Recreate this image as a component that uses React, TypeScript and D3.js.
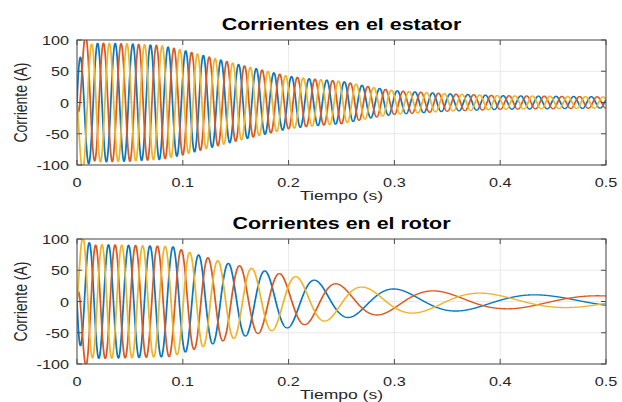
import React from "react";
import * as d3 from "d3";

// ---------- data ----------
const xTicks = [0, 0.1, 0.2, 0.3, 0.4, 0.5];
const yTicks = [-100, -50, 0, 50, 100];
const phaseAnglesDeg = [30, -90, 150]; // blue, orange, yellow
const statorFrequency = 60; // Hz
const dcDecayTau = 0.004; // s
const statorEnvTimes = [0, 0.02, 0.05, 0.08, 0.1, 0.12, 0.15, 0.18, 0.2, 0.22, 0.25, 0.28, 0.3, 0.35, 0.4, 0.45, 0.5];
const statorEnvAmps = [95, 95, 94, 91, 84, 75, 62, 50, 42, 38, 34, 24, 19, 14, 11, 10, 9];
const rotorFreqTimes = [0, 0.05, 0.1, 0.15, 0.2, 0.236, 0.258, 0.285, 0.32, 0.363, 0.412, 0.467, 0.5];
const rotorFreqValues = [58, 51.2, 42, 31, 21, 16, 13.5, 11, 8.5, 7.25, 6.45, 5.6, 5.3];
const rotorEnvTimes = [0, 0.05, 0.09, 0.1, 0.12, 0.14, 0.16, 0.18, 0.2, 0.225, 0.25, 0.27, 0.3, 0.35, 0.4, 0.45, 0.5];
const rotorEnvAmps = [92, 90, 88, 82, 72, 62, 55, 48, 42, 34, 27, 23, 20, 16, 12, 10, 9];
const titles = ["Corrientes en el estator", "Corrientes en el rotor"];
const xLabel = "Tiempo (s)";
const yLabel = "Corriente (A)";

// ---------- styles / layout ----------
const colors = ["#0a78c2", "#db5a22", "#eeb52a"];
const W = 622;
const H = 402;
const X0 = 77;
const X1 = 606;
const panels = [
  { top: 40, bottom: 165 },
  { top: 239, bottom: 364 },
];
const SX = 1.3; // horizontal stretch seen in the picture
const FONT = "'Liberation Sans', Arial, Helvetica, sans-serif";
const TXT = "#262626";

function buildSeries(kind: number) {
  const dt = 0.0002;
  const n = Math.round(0.5 / dt);
  const env = d3
    .scaleLinear()
    .domain(kind === 0 ? statorEnvTimes : rotorEnvTimes)
    .range(kind === 0 ? statorEnvAmps : rotorEnvAmps);
  const freq = d3.scaleLinear().domain(rotorFreqTimes).range(rotorFreqValues);
  const thetas: number[] = [];
  let th = 0;
  for (let i = 0; i <= n; i++) {
    const t = i * dt;
    if (kind === 0) {
      th = 2 * Math.PI * statorFrequency * t;
    } else if (i > 0) {
      const f = (freq(t - dt) + freq(t)) / 2;
      th += 2 * Math.PI * f * dt;
    }
    thetas.push(th);
  }
  return phaseAnglesDeg.map((deg) => {
    const phi = (deg * Math.PI) / 180;
    const pts: [number, number][] = [];
    for (let i = 0; i <= n; i++) {
      const t = i * dt;
      const v = env(t) * (Math.sin(thetas[i] + phi) - Math.sin(phi) * Math.exp(-t / dcDecayTau));
      pts.push([t, kind === 0 ? v : -v]);
    }
    return pts;
  });
}

function Panel({ idx }: { idx: number }) {
  const p = panels[idx];
  const x = d3.scaleLinear().domain([0, 0.5]).range([X0, X1]);
  // compressed x scale: drawn inside a group stretched by SX
  const xc = d3.scaleLinear().domain([0, 0.5]).range([X0 / SX, X1 / SX]);
  const y = d3.scaleLinear().domain([-100, 100]).range([p.bottom, p.top]);
  const series = React.useMemo(() => buildSeries(idx), [idx]);
  const line = d3
    .line<[number, number]>()
    .x((d) => xc(d[0]))
    .y((d) => y(d[1]));
  const clipId = `clip${idx}`;
  const tickLen = 5;
  const cy = (p.top + p.bottom) / 2;
  return (
    <g>
      <defs>
        <clipPath id={clipId}>
          <rect x={X0} y={p.top} width={X1 - X0} height={p.bottom - p.top} />
        </clipPath>
      </defs>
      <rect x={X0} y={p.top} width={X1 - X0} height={p.bottom - p.top} fill="#fff" />
      {/* grid */}
      {xTicks.map((t) => (
        <line key={"gx" + t} x1={x(t)} x2={x(t)} y1={p.top} y2={p.bottom} stroke="#e3e3e3" strokeWidth={0.8} />
      ))}
      {yTicks.map((t) => (
        <line key={"gy" + t} x1={X0} x2={X1} y1={y(t)} y2={y(t)} stroke="#e3e3e3" strokeWidth={0.8} />
      ))}
      {/* series */}
      <g clipPath={`url(#${clipId})`}>
        <g transform={`scale(${SX},1)`}>
          {series.map((s, k) => (
            <path key={k} d={line(s) || ""} fill="none" stroke={colors[k]} strokeWidth={1.35} strokeLinejoin="round" />
          ))}
        </g>
      </g>
      {/* box */}
      <rect x={X0} y={p.top} width={X1 - X0} height={p.bottom - p.top} fill="none" stroke="#4d4d4d" strokeWidth={1} />
      {/* ticks */}
      {xTicks.map((t) => (
        <g key={"tx" + t}>
          <line x1={x(t)} x2={x(t)} y1={p.bottom} y2={p.bottom - tickLen} stroke="#4d4d4d" />
          <line x1={x(t)} x2={x(t)} y1={p.top} y2={p.top + tickLen} stroke="#4d4d4d" />
          <text
            transform={`translate(${x(t)},${p.bottom + 22}) scale(${SX},1)`}
            textAnchor="middle"
            fontSize={12.5}
            fill={TXT}
            fontFamily={FONT}
          >
            {String(t)}
          </text>
        </g>
      ))}
      {yTicks.map((t) => (
        <g key={"ty" + t}>
          <line x1={X0} x2={X0 + tickLen} y1={y(t)} y2={y(t)} stroke="#4d4d4d" />
          <line x1={X1} x2={X1 - tickLen} y1={y(t)} y2={y(t)} stroke="#4d4d4d" />
          <text
            transform={`translate(69,${y(t) + 5}) scale(${SX},1)`}
            textAnchor="end"
            fontSize={12.5}
            fill={TXT}
            fontFamily={FONT}
          >
            {String(t)}
          </text>
        </g>
      ))}
      {/* labels */}
      <text
        transform={`translate(${(X0 + X1) / 2},${p.bottom + 35}) scale(${SX},1)`}
        textAnchor="middle"
        fontSize={13.5}
        fill={TXT}
        fontFamily={FONT}
      >
        {xLabel}
      </text>
      <text
        transform={`translate(26.5,${cy}) scale(${SX},1) rotate(-90)`}
        textAnchor="middle"
        fontSize={14}
        fill={TXT}
        fontFamily={FONT}
      >
        {yLabel}
      </text>
      <text
        transform={`translate(${(X0 + X1) / 2},${p.top - 10.5}) scale(${SX},1)`}
        textAnchor="middle"
        fontSize={16.5}
        fontWeight="bold"
        fill="#000"
        fontFamily={FONT}
      >
        {titles[idx]}
      </text>
    </g>
  );
}

export default function App() {
  return (
    <svg
      width={W}
      height={H}
      viewBox={`0 0 ${W} ${H}`}
      style={{ position: "absolute", left: 0, top: 0, display: "block", background: "#fff" }}
    >
      <rect x={0} y={0} width={W} height={H} fill="#fff" />
      <Panel idx={0} />
      <Panel idx={1} />
    </svg>
  );
}
